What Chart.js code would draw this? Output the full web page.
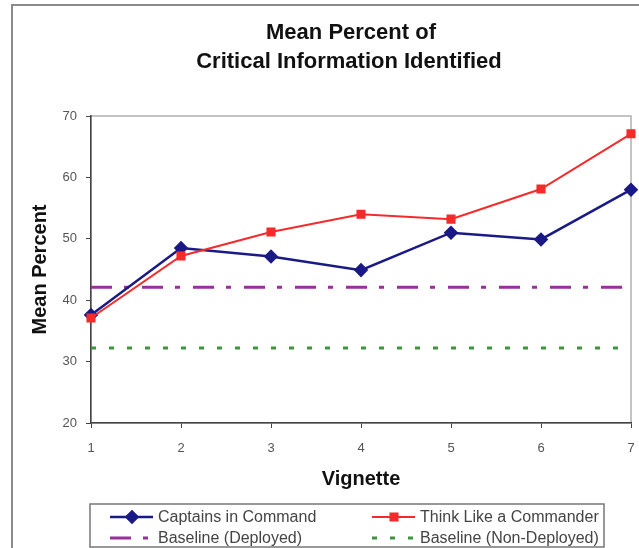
<!DOCTYPE html>
<html>
<head>
<meta charset="utf-8">
<script src="https://cdn.jsdelivr.net/npm/chart.js@4.4.1/dist/chart.umd.min.js"></script>
<style>
  html, body { margin: 0; padding: 0; background: #fff; }
</style>
</head>
<body>
<canvas id="lineChart" width="639" height="548"></canvas>
<script>
const vignettes = ['1', '2', '3', '4', '5', '6', '7'];
const captainsInCommand = [37.6, 48.5, 47.1, 44.9, 51.0, 49.9, 58.0];
const thinkLikeCommander = [37.1, 47.2, 51.1, 54.0, 53.2, 58.1, 67.1];
const baselineDeployed = [42.1, 42.1, 42.1, 42.1, 42.1, 42.1, 42.1];
const baselineNonDeployed = [32.2, 32.2, 32.2, 32.2, 32.2, 32.2, 32.2];
const yMin = 20, yMax = 70, yStep = 10;
const chartTitle = ['Mean Percent of', 'Critical Information Identified'];

const FONT = "'Liberation Sans', Arial, sans-serif";

// frame, plot border, title and legend drawn on the canvas
const extras = {
    id: 'extras',
    beforeDraw(chart) {
        const ctx = chart.ctx, a = chart.chartArea;
        ctx.save();
        ctx.strokeStyle = '#8a8a8a';
        ctx.lineWidth = 2;
        ctx.strokeRect(12, 5, 800, 800);
        ctx.strokeStyle = '#b0b0b0';
        ctx.lineWidth = 1.5;
        ctx.strokeRect(a.left, a.top, a.right - a.left, a.bottom - a.top);
        ctx.restore();
    },
    afterDraw(chart) {
        const ctx = chart.ctx;
        ctx.save();
        ctx.fillStyle = '#111';
        ctx.font = 'bold 22px ' + FONT;
        ctx.textAlign = 'center';
        ctx.textBaseline = 'middle';
        ctx.fillText(chartTitle[0], 351, 33);
        ctx.fillText(chartTitle[1], 349, 62);

        // legend
        ctx.strokeStyle = '#777';
        ctx.lineWidth = 1.5;
        ctx.strokeRect(90, 504, 514, 43);
        const spots = [[110, 517], [372, 517], [110, 538], [372, 538]];
        chart.data.datasets.forEach((ds, i) => {
            const [x, y] = spots[i];
            ctx.save();
            ctx.strokeStyle = ds.borderColor;
            ctx.lineWidth = ds.borderWidth;
            ctx.setLineDash(ds.borderDash || []);
            ctx.beginPath();
            ctx.moveTo(x, y);
            ctx.lineTo(x + 43, y);
            ctx.stroke();
            ctx.setLineDash([]);
            if (ds.pointRadius > 0) {
                ctx.fillStyle = ds.pointBackgroundColor;
                ctx.strokeStyle = ds.pointBorderColor;
                Chart.helpers.drawPoint(ctx, {
                    pointStyle: ds.pointStyle, radius: ds.pointRadius, rotation: 0, borderWidth: 1
                }, x + 22, y);
            }
            ctx.restore();
            ctx.fillStyle = '#444';
            ctx.font = '16px ' + FONT;
            ctx.textAlign = 'left';
            ctx.textBaseline = 'middle';
            ctx.fillText(ds.label, x + 48, y + 1);
        });
        ctx.restore();
    }
};

const lineChart = new Chart(document.getElementById('lineChart'), {
    type: 'line',
    data: {
        labels: vignettes,
        datasets: [
            {
                label: 'Captains in Command', data: captainsInCommand,
                borderColor: '#1a1a86', borderWidth: 2.5,
                pointStyle: 'rectRot', pointRadius: 5.5,
                pointBackgroundColor: '#1a1a86', pointBorderColor: '#1a1a86',
                order: 1, clip: false
            },
            {
                label: 'Think Like a Commander', data: thinkLikeCommander,
                borderColor: '#f52a2a', borderWidth: 2,
                pointStyle: 'rect', pointRadius: 5,
                pointBackgroundColor: '#f52a2a', pointBorderColor: '#f52a2a',
                order: 0, clip: false
            },
            {
                label: 'Baseline (Deployed)', data: baselineDeployed,
                borderColor: '#96309a', borderWidth: 3, borderDash: [21, 12, 5, 13],
                pointRadius: 0, order: 2
            },
            {
                label: 'Baseline (Non-Deployed)', data: baselineNonDeployed,
                borderColor: '#3d963d', borderWidth: 3, borderDash: [5, 13],
                pointRadius: 0, order: 3
            }
        ]
    },
    options: {
        responsive: false,
        animation: false,
        layout: { padding: { left: 12, top: 116, right: 3, bottom: 0 } },
        plugins: { legend: { display: false }, tooltip: { enabled: false } },
        scales: {
            x: {
                offset: false,
                grid: { drawOnChartArea: false, drawTicks: true, tickLength: 5, color: '#444' },
                border: { color: '#444', width: 1.5 },
                ticks: { color: '#555', font: { family: FONT, size: 13 }, padding: 13, maxRotation: 0 },
                title: {
                    display: true, text: 'Vignette', color: '#111',
                    font: { family: FONT, size: 20, weight: 'bold' },
                    padding: { top: 0, bottom: 57 }
                },
                afterFit(s) { s.height = 125; s.paddingLeft = 0; s.paddingRight = 0; }
            },
            y: {
                min: yMin, max: yMax,
                grid: { drawOnChartArea: false, drawTicks: true, tickLength: 5, color: '#444' },
                border: { color: '#444', width: 1.5 },
                ticks: { stepSize: yStep, color: '#555', font: { family: FONT, size: 13 }, padding: 9 },
                title: {
                    display: true, text: 'Mean Percent', color: '#111',
                    font: { family: FONT, size: 20, weight: 'bold' },
                    padding: { top: 16, bottom: 0 }
                },
                afterFit(s) { s.width = 79; }
            }
        }
    },
    plugins: [extras]
});
</script>
</body>
</html>
